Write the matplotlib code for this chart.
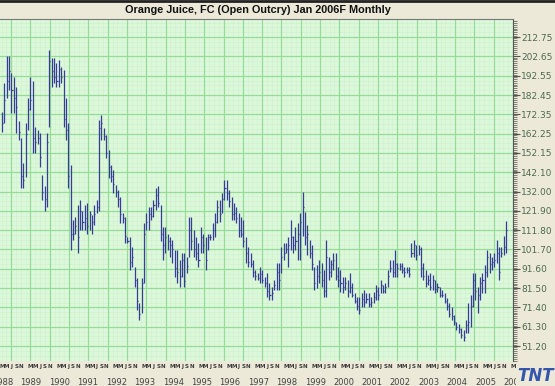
import numpy as np
import matplotlib
matplotlib.use("Agg")
import matplotlib.pyplot as plt
from matplotlib.ticker import FixedLocator

# monthly bars, Mar 1988 .. Dec 2005 (month index 0 = Jan 1988)
start_month = 2
highs = [
    173.5, 188.7, 203.0, 203.0, 194.0, 191.8, 186.6, 169.0, 160.0, 147.0,
    167.7, 181.0, 191.8, 190.0, 165.6, 164.0, 162.5, 140.5, 135.0, 162.5,
    206.0, 202.0, 202.0, 199.0, 200.7, 197.0, 195.5, 181.0, 167.7, 145.8,
    117.0, 118.6, 125.0, 127.5, 122.0, 125.0, 126.0, 122.0, 119.6, 125.0,
    127.5, 169.3, 172.0, 165.0, 161.5, 153.6, 145.8, 143.0, 135.3, 132.7,
    129.0, 120.6, 118.6, 108.0, 108.0, 102.9, 92.4, 87.0, 73.5, 87.0,
    115.4, 120.6, 123.8, 123.8, 127.5, 133.7, 134.8, 125.0, 113.4, 113.4,
    110.0, 108.0, 106.5, 101.3, 101.3, 96.0, 99.7, 99.7, 97.6, 118.6,
    118.6, 111.7, 108.0, 104.9, 113.4, 110.0, 108.0, 110.0, 110.0, 115.4,
    120.6, 127.5, 127.5, 131.0, 137.9, 137.9, 132.7, 129.0, 126.0, 123.8,
    120.6, 118.6, 117.0, 108.0, 102.9, 99.7, 96.0, 90.8, 89.2, 92.4,
    90.8, 87.2, 89.2, 84.0, 81.9, 85.6, 94.5, 94.5, 102.9, 104.9,
    104.9, 108.0, 117.0, 109.0, 113.4, 115.4, 120.6, 131.6, 121.5, 114.4,
    106.5, 103.9, 92.4, 93.4, 96.0, 94.5, 90.8, 106.5, 97.6, 96.0,
    99.7, 99.7, 92.4, 90.8, 87.2, 87.2, 85.6, 89.2, 84.0, 78.8,
    76.7, 76.7, 78.8, 80.4, 78.8, 78.8, 76.7, 79.3, 83.0, 81.9,
    85.6, 83.0, 84.0, 90.8, 96.0, 96.0, 101.3, 94.5, 94.5, 94.5,
    92.4, 92.4, 92.4, 104.9, 106.5, 103.9, 103.9, 102.9, 94.5, 90.8,
    88.2, 89.2, 88.2, 85.6, 84.0, 81.9, 80.4, 78.8, 76.2, 73.5,
    71.4, 67.3, 63.6, 63.0, 60.5, 59.4, 64.7, 73.5, 77.7, 89.2,
    89.2, 81.9, 87.2, 89.2, 93.4, 101.3, 99.7, 97.6, 99.7, 106.5,
    102.9, 102.9, 109.0, 116.5,
]
lows = [
    163.0, 167.7, 181.0, 185.0, 173.0, 173.0, 162.5, 159.0, 134.0, 134.0,
    139.5, 164.0, 174.5, 152.0, 152.0, 157.0, 144.7, 127.5, 122.0, 124.0,
    165.6, 186.6, 188.7, 186.6, 186.6, 188.7, 165.6, 159.0, 134.0, 101.3,
    106.5, 110.0, 100.0, 111.7, 111.7, 111.7, 110.0, 111.7, 110.0, 114.4,
    120.6, 122.0, 159.0, 159.0, 149.5, 139.0, 136.9, 131.0, 129.0, 123.8,
    115.4, 115.4, 105.0, 105.0, 90.8, 92.4, 81.9, 70.0, 64.7, 68.3,
    84.0, 111.7, 111.7, 117.0, 118.6, 122.2, 123.8, 106.0, 96.0, 99.7,
    101.3, 97.6, 94.5, 87.2, 84.0, 81.9, 87.2, 81.9, 89.2, 97.6,
    101.3, 97.6, 96.0, 92.4, 99.7, 99.7, 90.8, 101.3, 106.5, 106.5,
    108.0, 115.4, 116.0, 120.6, 127.5, 127.5, 123.8, 117.0, 117.0, 115.4,
    108.0, 108.0, 102.9, 94.5, 92.4, 92.4, 87.2, 85.6, 85.6, 84.0,
    84.0, 81.9, 76.7, 75.1, 75.1, 80.4, 80.4, 80.4, 89.2, 96.0,
    99.7, 92.4, 101.3, 99.7, 101.3, 96.0, 96.0, 109.0, 104.3, 98.7,
    97.1, 90.8, 80.4, 81.4, 84.0, 81.9, 76.7, 76.7, 85.6, 87.2,
    90.8, 85.6, 81.9, 79.3, 78.8, 80.4, 76.7, 78.8, 76.7, 73.5,
    69.9, 67.8, 71.4, 71.4, 73.5, 71.4, 71.4, 73.5, 75.1, 75.1,
    78.8, 78.8, 78.8, 81.9, 89.8, 87.2, 87.2, 87.2, 90.8, 89.2,
    87.2, 89.2, 87.2, 97.6, 97.6, 96.0, 98.7, 87.2, 85.6, 81.9,
    83.0, 80.4, 80.4, 78.8, 79.3, 76.7, 76.7, 73.5, 69.9, 66.2,
    64.7, 62.0, 59.4, 57.8, 55.2, 53.7, 57.8, 57.8, 61.0, 71.4,
    75.1, 68.3, 75.1, 78.8, 78.8, 87.2, 89.2, 90.8, 92.4, 94.5,
    85.6, 97.6, 98.7, 99.7,
]
closes = [
    168, 180, 190, 195, 185, 181, 176, 163, 140, 138,
    162, 175, 180, 160, 158, 160, 150, 132, 128, 158,
    200, 195, 192, 190, 196, 192, 170, 164, 140, 110,
    110, 114, 108, 122, 116, 118, 114, 120, 116, 120,
    124, 165, 168, 161, 152, 145, 140, 136, 132, 128,
    120, 118, 109, 106, 95, 98, 86, 75, 68, 84,
    110, 116, 120, 119, 125, 130, 126, 110, 104, 108,
    106, 104, 102, 92, 90, 88, 96, 85, 93, 112,
    106, 102, 100, 96, 108, 104, 96, 108, 108, 112,
    116, 124, 120, 128, 134, 131, 127, 120, 121, 118,
    112, 110, 106, 100, 95, 94, 90, 88, 87, 89,
    86, 84, 80, 78, 79, 83, 90, 86, 98, 100,
    102, 104, 108, 104, 106, 110, 116, 124, 108, 110,
    100, 94, 84, 88, 90, 86, 80, 98, 90, 94,
    96, 88, 86, 84, 82, 84, 80, 82, 78, 75,
    72, 70, 76, 74, 76, 73, 74, 77, 80, 78,
    83, 80, 82, 88, 92, 90, 94, 92, 93, 91,
    90, 91, 89, 100, 104, 99, 102, 92, 88, 84,
    86, 82, 86, 81, 82, 78, 78, 75, 72, 68,
    67, 64, 61, 60, 57, 56, 62, 64, 72, 86,
    80, 78, 84, 86, 90, 98, 94, 95, 96, 100,
    90, 100, 103, 112,
]

ytick_vals = [212.75, 202.65, 192.55, 182.45, 172.35, 162.25, 152.15, 142.10,
              132.00, 121.90, 111.80, 101.70, 91.60, 81.50, 71.40, 61.30, 51.20]
years = list(range(1988, 2007))
month_letters = ["M", "M", "J", "S", "N"]
month_offsets = [2, 4, 6, 8, 10]

title = "Orange Juice, FC (Open Outcry) Jan 2006F Monthly"

W, H = 555, 386
fig = plt.figure(figsize=(W / 100, H / 100), dpi=100, facecolor="#ece9d8")
# plot area in pixels: x 0..513, y 19..361
ax = fig.add_axes([0, (H - 361) / H, 513 / W, (361 - 19) / H])
ax.set_facecolor("#dbf8db")

t = np.arange(len(highs)) + start_month
x0, x1 = 1.155, 217.9
y0, y1 = 43.4, 222.2
ax.set_xlim(x0, x1)
ax.set_ylim(y0, y1)

# graph-paper grid: square cells, measured from the right edge
px_x = (x1 - x0) / 513.0
cell = 19.3
for k in range(0, 28):
    xv = x1 - k * cell * px_x
    ax.axvline(xv, color="#96db96", lw=0.9, zorder=1)
    for j in range(1, 4):
        ax.axvline(xv - j * cell / 4 * px_x, color="#cdf0cd", lw=0.4, zorder=0.5)
for v in ytick_vals + [222.85]:
    ax.axhline(v, color="#96db96", lw=0.9, zorder=1)
    for j in range(1, 4):
        ax.axhline(v - j * 10.1 / 4, color="#cdf0cd", lw=0.4, zorder=0.5)

# OHLC bars (high-low with close tick)
bar_col = "#373c96"
ax.vlines(t, lows, highs, color=bar_col, lw=0.9, zorder=3)
ax.hlines(closes, t, t + 0.45, color=bar_col, lw=0.9, zorder=3)

# right axis
ax.yaxis.tick_right()
ax.yaxis.set_major_locator(FixedLocator(ytick_vals))
ax.set_yticklabels(["%.2f" % v for v in ytick_vals])
minor = np.arange(43.5, 222.0, 1.01)
ax.yaxis.set_minor_locator(FixedLocator(minor))
ax.tick_params(axis="y", which="major", length=5, width=0.8, color="#555555",
               labelsize=6.5, labelcolor="#4d6b4d", pad=1)
ax.tick_params(axis="y", which="minor", length=3, width=0.5, color="#555555")
ax.set_xticks([])
for s in ["left", "bottom"]:
    ax.spines[s].set_visible(False)
ax.spines["right"].set_color("#555555")
ax.spines["top"].set_color("#777777")

# x labels: month letters and years
xt = ax.get_xaxis_transform()
for y in years:
    base = (y - 1988) * 12
    for off, lt in zip(month_offsets, month_letters):
        xm = base + off
        if x0 - 1 < xm < x1 + 1:
            ax.text(xm, -0.008, lt, transform=xt, ha="center", va="top",
                    fontsize=4.0, color="#3c3c3c", fontweight="bold",
                    clip_on=False)
    ax.text(base + 2.3, -0.05, str(y), transform=xt, ha="center", va="top",
            fontsize=6, color="#444444", clip_on=False)

# title bar
fig.add_artist(plt.Line2D([0, 1], [1 - 1 / H, 1 - 1 / H], color="#222222", lw=2,
                          transform=fig.transFigure))
fig.text(258 / W, 1 - 10 / H, title, ha="center", va="center", fontsize=7.8,
         fontweight="bold", color="#111111", family="Liberation Sans")

# logo
fig.text(536 / W, 1 - 376 / H, "TNT", ha="center", va="center", fontsize=12,
         fontweight="bold", style="italic", color="#3355aa",
         bbox=dict(boxstyle="square,pad=0.1", fc="#ece9d8", ec="none"))

fig.savefig("out.png", dpi=100, facecolor=fig.get_facecolor())
